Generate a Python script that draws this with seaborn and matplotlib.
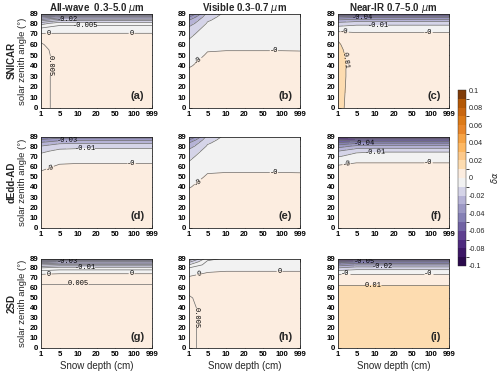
import numpy as np
import matplotlib
matplotlib.use("Agg")
import matplotlib.pyplot as plt
import seaborn as sns
from matplotlib.colors import ListedColormap, BoundaryNorm

sns.set_style("ticks")
plt.rcParams['font.family'] = ['Liberation Sans', 'DejaVu Sans']

# ---------------- data ----------------
depth_labels = ["1", "5", "10", "20", "50", "100", "999"]
angles = [0, 30, 40, 50, 55, 60, 65, 70, 75, 80, 83, 86, 89]
angle_ticks = [0, 10, 20, 30, 40, 50, 60, 70, 80, 89]
models = ["SNICAR", "dEdd-AD", "2SD"]
bands = ["All-wave  0.3\u20135.0 $\\mu$m", "Visible 0.3\u20130.7 $\\mu$m", "Near-IR 0.7\u20135.0 $\\mu$m"]
letters = ["(a)", "(b)", "(c)", "(d)", "(e)", "(f)", "(g)", "(h)", "(i)"]
cbar_ticks = [0.1, 0.08, 0.06, 0.04, 0.02, 0, -0.02, -0.04, -0.06, -0.08, -0.1]

# rows: angles, columns: depths
snicar_all = [
    [0.007, 0.003, 0.003, 0.003, 0.003, 0.003, 0.003],
    [0.007, 0.003, 0.003, 0.003, 0.003, 0.003, 0.003],
    [0.007, 0.003, 0.003, 0.003, 0.003, 0.003, 0.003],
    [0.007, 0.003, 0.003, 0.003, 0.003, 0.003, 0.003],
    [0.0065, 0.003, 0.003, 0.003, 0.003, 0.003, 0.003],
    [0.0055, 0.0025, 0.0025, 0.0025, 0.0025, 0.0025, 0.0025],
    [0.004, 0.0015, 0.0015, 0.0015, 0.0015, 0.0015, 0.0015],
    [0.0005, 0.0003, 0.0003, 0.0003, 0.0003, 0.0003, 0.0003],
    [-0.004, -0.002, -0.002, -0.002, -0.002, -0.002, -0.002],
    [-0.012, -0.007, -0.007, -0.007, -0.007, -0.007, -0.007],
    [-0.022, -0.016, -0.016, -0.016, -0.016, -0.016, -0.016],
    [-0.034, -0.028, -0.028, -0.028, -0.028, -0.028, -0.028],
    [-0.05, -0.045, -0.045, -0.045, -0.045, -0.045, -0.045],
]
snicar_vis = [
    [0.003, 0.003, 0.003, 0.003, 0.003, 0.003, 0.003],
    [0.002, 0.003, 0.003, 0.003, 0.003, 0.003, 0.003],
    [-0.0005, 0.002, 0.002, 0.002, 0.002, 0.002, 0.002],
    [-0.004, 0.0008, 0.001, 0.001, 0.001, 0.001, 0.001],
    [-0.006, -0.0005, -0.0002, -0.0002, -0.0002, -0.0002, -0.0003],
    [-0.008, -0.002, -0.0015, -0.0015, -0.0015, -0.0015, -0.0015],
    [-0.010, -0.003, -0.0025, -0.0025, -0.0025, -0.0025, -0.0025],
    [-0.013, -0.004, -0.003, -0.003, -0.003, -0.003, -0.003],
    [-0.017, -0.006, -0.004, -0.004, -0.004, -0.004, -0.004],
    [-0.025, -0.009, -0.005, -0.005, -0.005, -0.005, -0.005],
    [-0.03, -0.011, -0.006, -0.006, -0.006, -0.006, -0.006],
    [-0.04, -0.013, -0.007, -0.007, -0.007, -0.007, -0.007],
    [-0.055, -0.016, -0.008, -0.008, -0.008, -0.008, -0.008],
]
snicar_nir = [
    [0.012, 0.006, 0.006, 0.006, 0.006, 0.006, 0.006],
    [0.013, 0.006, 0.006, 0.006, 0.006, 0.006, 0.006],
    [0.013, 0.006, 0.006, 0.006, 0.006, 0.006, 0.006],
    [0.0125, 0.0055, 0.0055, 0.0055, 0.0055, 0.0055, 0.0055],
    [0.012, 0.005, 0.005, 0.005, 0.005, 0.005, 0.005],
    [0.011, 0.0045, 0.0045, 0.0045, 0.0045, 0.0045, 0.0045],
    [0.0095, 0.0035, 0.0035, 0.0035, 0.0035, 0.0035, 0.0035],
    [0.004, 0.0015, 0.0015, 0.0015, 0.0015, 0.0015, 0.0015],
    [-0.005, -0.004, -0.004, -0.004, -0.004, -0.004, -0.004],
    [-0.016, -0.013, -0.013, -0.013, -0.013, -0.013, -0.013],
    [-0.028, -0.025, -0.025, -0.025, -0.025, -0.025, -0.025],
    [-0.045, -0.042, -0.042, -0.042, -0.042, -0.042, -0.042],
    [-0.075, -0.07, -0.07, -0.07, -0.07, -0.07, -0.07],
]
dedd_all = [
    [0.003, 0.003, 0.003, 0.003, 0.003, 0.003, 0.003],
    [0.003, 0.003, 0.003, 0.003, 0.003, 0.003, 0.003],
    [0.0028, 0.003, 0.003, 0.003, 0.003, 0.003, 0.003],
    [0.001, 0.003, 0.003, 0.003, 0.003, 0.003, 0.003],
    [0.0002, 0.0025, 0.0025, 0.0025, 0.0025, 0.0025, 0.0025],
    [-0.0015, 0.0008, 0.0012, 0.0012, 0.0012, 0.0012, 0.0012],
    [-0.004, -0.001, -0.0008, -0.0008, -0.0008, -0.0008, -0.0008],
    [-0.007, -0.004, -0.0035, -0.0035, -0.0035, -0.0035, -0.0035],
    [-0.012, -0.0075, -0.007, -0.007, -0.007, -0.007, -0.007],
    [-0.02, -0.014, -0.013, -0.013, -0.013, -0.013, -0.013],
    [-0.028, -0.022, -0.021, -0.021, -0.021, -0.021, -0.021],
    [-0.038, -0.033, -0.032, -0.032, -0.032, -0.032, -0.032],
    [-0.05, -0.046, -0.045, -0.045, -0.045, -0.045, -0.045],
]
dedd_vis = [
    [0.003, 0.003, 0.003, 0.003, 0.003, 0.003, 0.003],
    [0.0022, 0.003, 0.003, 0.003, 0.003, 0.003, 0.003],
    [-0.0003, 0.002, 0.002, 0.002, 0.002, 0.002, 0.002],
    [-0.0035, 0.0008, 0.001, 0.001, 0.001, 0.001, 0.001],
    [-0.0055, -0.0005, -0.0002, -0.0002, -0.0002, -0.0002, -0.0003],
    [-0.008, -0.002, -0.0015, -0.0015, -0.0015, -0.0015, -0.0015],
    [-0.010, -0.003, -0.0025, -0.0025, -0.0025, -0.0025, -0.0025],
    [-0.013, -0.004, -0.003, -0.003, -0.003, -0.003, -0.003],
    [-0.017, -0.006, -0.004, -0.004, -0.004, -0.004, -0.004],
    [-0.025, -0.009, -0.005, -0.005, -0.005, -0.005, -0.005],
    [-0.03, -0.011, -0.006, -0.006, -0.006, -0.006, -0.006],
    [-0.04, -0.013, -0.007, -0.007, -0.007, -0.007, -0.007],
    [-0.055, -0.016, -0.008, -0.008, -0.008, -0.008, -0.008],
]
dedd_nir = [
    [0.004, 0.004, 0.004, 0.004, 0.004, 0.004, 0.004],
    [0.004, 0.004, 0.004, 0.004, 0.004, 0.004, 0.004],
    [0.004, 0.004, 0.004, 0.004, 0.004, 0.004, 0.004],
    [0.004, 0.004, 0.004, 0.004, 0.004, 0.004, 0.004],
    [0.004, 0.004, 0.004, 0.004, 0.004, 0.004, 0.004],
    [0.001, 0.002, 0.002, 0.002, 0.002, 0.002, 0.002],
    [-0.003, -0.0008, -0.0008, -0.0008, -0.0008, -0.0008, -0.0008],
    [-0.011, -0.006, -0.0055, -0.0055, -0.0055, -0.0055, -0.0055],
    [-0.02, -0.012, -0.011, -0.011, -0.011, -0.011, -0.011],
    [-0.035, -0.028, -0.027, -0.027, -0.027, -0.027, -0.027],
    [-0.048, -0.042, -0.041, -0.041, -0.041, -0.041, -0.041],
    [-0.065, -0.06, -0.06, -0.06, -0.06, -0.06, -0.06],
    [-0.09, -0.085, -0.085, -0.085, -0.085, -0.085, -0.085],
]
twosd_all = [
    [0.007, 0.007, 0.007, 0.007, 0.007, 0.007, 0.007],
    [0.007, 0.007, 0.007, 0.007, 0.007, 0.007, 0.007],
    [0.007, 0.007, 0.007, 0.007, 0.007, 0.007, 0.007],
    [0.007, 0.007, 0.007, 0.007, 0.007, 0.007, 0.007],
    [0.007, 0.007, 0.007, 0.007, 0.007, 0.007, 0.007],
    [0.006, 0.006, 0.006, 0.006, 0.006, 0.006, 0.006],
    [0.0048, 0.0048, 0.0048, 0.0048, 0.0048, 0.0048, 0.0048],
    [0.0025, 0.0025, 0.0025, 0.0025, 0.0025, 0.0025, 0.0025],
    [-0.001, -0.0005, -0.0005, -0.0005, -0.0005, -0.0005, -0.0005],
    [-0.01, -0.008, -0.008, -0.008, -0.008, -0.008, -0.008],
    [-0.02, -0.018, -0.018, -0.018, -0.018, -0.018, -0.018],
    [-0.033, -0.03, -0.03, -0.03, -0.03, -0.03, -0.03],
    [-0.05, -0.048, -0.048, -0.048, -0.048, -0.048, -0.048],
]
twosd_vis = [
    [0.006, 0.0035, 0.0035, 0.0035, 0.0035, 0.0035, 0.0035],
    [0.006, 0.0035, 0.0035, 0.0035, 0.0035, 0.0035, 0.0035],
    [0.006, 0.0035, 0.0035, 0.0035, 0.0035, 0.0035, 0.0035],
    [0.0055, 0.003, 0.003, 0.003, 0.003, 0.003, 0.003],
    [0.0045, 0.003, 0.003, 0.003, 0.003, 0.003, 0.003],
    [0.0035, 0.0027, 0.0027, 0.0027, 0.0027, 0.0027, 0.0027],
    [0.0025, 0.0023, 0.0023, 0.0023, 0.0023, 0.0023, 0.0023],
    [0.0008, 0.0015, 0.0018, 0.0018, 0.0018, 0.0018, 0.0018],
    [-0.002, 0.0002, 0.0007, 0.0007, 0.0007, 0.0007, 0.0007],
    [-0.005, -0.002, -0.0015, -0.0015, -0.0015, -0.0015, -0.0015],
    [-0.01, -0.003, -0.0025, -0.0025, -0.0025, -0.0025, -0.0025],
    [-0.016, -0.004, -0.003, -0.003, -0.003, -0.003, -0.003],
    [-0.026, -0.0065, -0.004, -0.004, -0.004, -0.004, -0.004],
]
twosd_nir = [
    [0.013, 0.013, 0.013, 0.013, 0.013, 0.013, 0.013],
    [0.013, 0.013, 0.013, 0.013, 0.013, 0.013, 0.013],
    [0.013, 0.013, 0.013, 0.013, 0.013, 0.013, 0.013],
    [0.013, 0.013, 0.013, 0.013, 0.013, 0.013, 0.013],
    [0.013, 0.013, 0.013, 0.013, 0.013, 0.013, 0.013],
    [0.012, 0.012, 0.012, 0.012, 0.012, 0.012, 0.012],
    [0.008, 0.008, 0.008, 0.008, 0.008, 0.008, 0.008],
    [0.004, 0.004, 0.004, 0.004, 0.004, 0.004, 0.004],
    [-0.001, -0.001, -0.001, -0.001, -0.001, -0.001, -0.001],
    [-0.02, -0.015, -0.015, -0.015, -0.015, -0.015, -0.015],
    [-0.035, -0.03, -0.03, -0.03, -0.03, -0.03, -0.03],
    [-0.055, -0.05, -0.05, -0.05, -0.05, -0.05, -0.05],
    [-0.09, -0.08, -0.08, -0.08, -0.08, -0.08, -0.08],
]
panels = [snicar_all, snicar_vis, snicar_nir,
          dedd_all, dedd_vis, dedd_nir,
          twosd_all, twosd_vis, twosd_nir]
line_steps = [0.005, 0.01, 0.01, 0.01, 0.01, 0.01, 0.005, 0.005, 0.01]

# contour labels: (level, approx depth-index, approx angle)
label_spots = [
    [(0, 0.4, 71), (0, 4.9, 71), (0.005, 0.5, 40), (-0.005, 2.4, 78), (-0.02, 1.4, 85)],
    [(0, 0.5, 45), (0, 4.6, 55)],
    [(0, 0.35, 72), (0, 4.9, 72), (0.01, 0.4, 45), (-0.01, 2.2, 78.5), (-0.04, 1.3, 86)],
    [(0, 0.5, 58), (0, 4.9, 63.5), (-0.01, 2.4, 77.5), (-0.03, 1.4, 85.5)],
    [(0, 0.5, 45), (0, 4.6, 55)],
    [(0, 0.45, 62.5), (0, 4.9, 63.5), (-0.01, 2.0, 74), (-0.04, 1.4, 84)],
    [(0, 0.4, 74.5), (0, 4.9, 74.5), (0.005, 2.0, 64.2), (-0.01, 2.4, 80), (-0.03, 1.4, 86)],
    [(0, 0.55, 73), (0, 4.9, 77), (0.005, 0.4, 30)],
    [(0, 0.4, 74), (0, 4.9, 74), (0.01, 1.9, 62.5), (-0.02, 2.4, 81), (-0.05, 1.4, 86.5)],
]

# ---------------- style ----------------
colors = ['#2b0a4c', '#3d1766', '#4e2a7e', '#5e3f8f', '#7062a3',
          '#8580b5', '#9c98c4', '#b6b3d6', '#d5d4e8', '#f2f2f2',
          '#fcede0', '#fddcb0', '#fdc98a', '#fdb863', '#f6a345',
          '#e8862a', '#dc7a18', '#c86610', '#b35806', '#7f3b08']
cmap = ListedColormap(sns.color_palette(colors))
fill_levels = np.round(np.arange(-0.1, 0.1001, 0.01), 3)
norm = BoundaryNorm(fill_levels, cmap.N)

fig = plt.figure(figsize=(5.0, 3.76), dpi=100)
col_left = [0.082, 0.378, 0.676]
width = 0.222
row_bottom = [0.713, 0.394, 0.0745]
row_height = [0.250, 0.242, 0.237]

x = np.arange(len(depth_labels))
y = np.array(angles)
X, Y = np.meshgrid(x, y)


def snap_to_contour(cs, level, px, py):
    """Nearest point (densified) on the contour line of the given level."""
    idx = int(np.argmin(np.abs(np.array(cs.levels) - level)))
    best, bd = (px, py), np.inf
    t = np.linspace(0, 1, 40)[:, None]
    for seg in cs.allsegs[idx]:
        if len(seg) < 2:
            continue
        dense = np.vstack([a + t * (b - a) for a, b in zip(seg[:-1], seg[1:])])
        d = ((dense[:, 0] - px) / 0.0536) ** 2 + ((dense[:, 1] - py) / 0.947) ** 2
        m = int(np.argmin(d))
        if d[m] < bd:
            bd, best = d[m], (dense[m, 0], dense[m, 1])
    return best


tick_font = dict(fontsize=5.6, fontweight='bold')
for i in range(3):
    for j in range(3):
        k = 3 * i + j
        ax = fig.add_axes([col_left[j], row_bottom[i], width, row_height[i]])
        Z = np.array(panels[k])
        ax.contourf(X, Y, Z, levels=fill_levels, cmap=cmap, norm=norm)
        step = line_steps[k]
        lv = np.round(np.arange(-0.1, 0.1001, step), 4)
        lv = lv[(lv > Z.min()) & (lv < Z.max())]
        cs = ax.contour(X, Y, Z, levels=lv, colors='#6a6a6a',
                        linewidths=0.5, linestyles='solid')
        ax.set_xlim(0, 6)
        ax.set_ylim(0, 89)
        pts = [snap_to_contour(cs, s[0], s[1], s[2]) for s in label_spots[k]]
        ax.clabel(cs, fmt='%g', fontsize=5, inline=True, inline_spacing=1,
                  manual=pts)
        for t in cs.labelTexts:
            t.set_family('Liberation Mono')
            t.set_color('black')
        ax.set_xticks(x)
        ax.set_xticklabels(depth_labels, **tick_font)
        ax.set_yticks(angle_ticks)
        ax.set_yticklabels([str(v) for v in angle_ticks], **tick_font)
        ax.tick_params(direction='in', length=2, width=0.5, pad=2,
                       top=True, right=True, colors='black')
        for s in ax.spines.values():
            s.set_linewidth(0.6)
        ax.text(0.93, 0.07, letters[k], transform=ax.transAxes,
                ha='right', va='bottom', fontsize=8, fontweight='bold')
        if i == 0:
            ax.set_title(bands[j], fontsize=7, fontweight='bold', pad=2)
        if i == 2:
            ax.set_xlabel("Snow depth (cm)", fontsize=7, labelpad=2)
        if j == 0:
            ax.set_ylabel("solar zenith angle (\u00b0)", fontsize=6.8, labelpad=2)
            fig.text(0.024, row_bottom[i] + row_height[i] / 2, models[i],
                     rotation=90, ha='center', va='center',
                     fontsize=7, fontweight='bold')

cax = fig.add_axes([0.916, 0.2926, 0.016, 0.468])
sm = matplotlib.cm.ScalarMappable(norm=norm, cmap=cmap)
cb = fig.colorbar(sm, cax=cax, ticks=cbar_ticks, boundaries=fill_levels)
cb.ax.set_yticklabels([f"{v:g}" for v in cbar_ticks], fontsize=5.2)
cb.ax.tick_params(length=0, pad=2)
cb.outline.set_linewidth(0.3)
cb.set_label("$\\delta\\alpha$", fontsize=6, labelpad=3)

fig.savefig("out.png", dpi=100)
